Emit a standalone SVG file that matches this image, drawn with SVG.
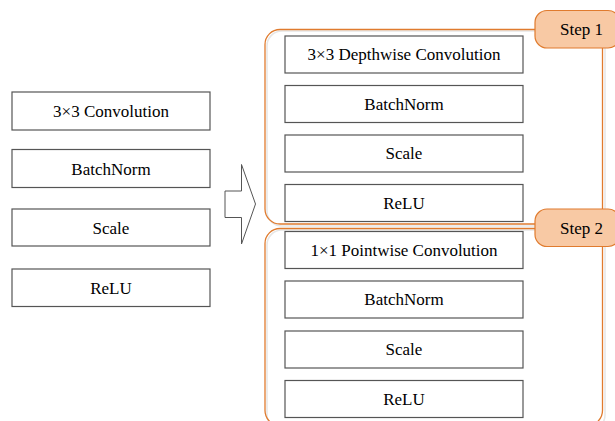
<svg xmlns="http://www.w3.org/2000/svg" width="615" height="421" viewBox="0 0 615 421">
<rect width="615" height="421" fill="#fff"/>

<g id="connectors">
<polygon fill="#fff" stroke="#555" stroke-width="1" points="225,191 241.5,191 241.5,164.5 255.5,204 241.5,244 241.5,217.5 225,217.5"/>
</g>

<g id="step1-group" fill="none">
<rect stroke="#e6e6e6" stroke-width="1.5" x="267" y="31" width="338" height="195" rx="15"/>
<rect stroke="#e07b2e" stroke-width="1.3" x="265" y="29.5" width="337.5" height="194.5" rx="15"/>
</g>
<g id="step2-group" fill="none">
<rect stroke="#e6e6e6" stroke-width="1.5" x="267" y="230" width="338" height="200" rx="15"/>
<rect stroke="#e07b2e" stroke-width="1.3" x="265" y="228.5" width="337.5" height="197" rx="15"/>
</g>

<g id="left-conv"><rect fill="#fff" stroke="#555" stroke-width="1.2" x="12" y="92" width="198" height="38"/><text x="111" y="117" font-family="Times New Roman" font-size="17" text-anchor="middle">3×3 Convolution</text></g>
<g id="left-bn"><rect fill="#fff" stroke="#555" stroke-width="1.2" x="12" y="149.5" width="198" height="38"/><text x="111" y="174.5" font-family="Times New Roman" font-size="17" text-anchor="middle">BatchNorm</text></g>
<g id="left-scale"><rect fill="#fff" stroke="#555" stroke-width="1.2" x="12" y="209" width="198" height="37"/><text x="111" y="233.5" font-family="Times New Roman" font-size="17" text-anchor="middle">Scale</text></g>
<g id="left-relu"><rect fill="#fff" stroke="#555" stroke-width="1.2" x="12" y="269" width="198" height="37.5"/><text x="111" y="293.5" font-family="Times New Roman" font-size="17" text-anchor="middle">ReLU</text></g>

<g id="dw-conv"><rect fill="#fff" stroke="#555" stroke-width="1.2" x="285" y="36" width="238" height="37"/><text x="404" y="60" font-family="Times New Roman" font-size="17" text-anchor="middle">3×3 Depthwise Convolution</text></g>
<g id="dw-bn"><rect fill="#fff" stroke="#555" stroke-width="1.2" x="285" y="85.5" width="238" height="37"/><text x="404" y="109.5" font-family="Times New Roman" font-size="17" text-anchor="middle">BatchNorm</text></g>
<g id="dw-scale"><rect fill="#fff" stroke="#555" stroke-width="1.2" x="285" y="135" width="238" height="37"/><text x="404" y="159" font-family="Times New Roman" font-size="17" text-anchor="middle">Scale</text></g>
<g id="dw-relu"><rect fill="#fff" stroke="#555" stroke-width="1.2" x="285" y="184.5" width="238" height="37"/><text x="404" y="208.5" font-family="Times New Roman" font-size="17" text-anchor="middle">ReLU</text></g>

<g id="pw-conv"><rect fill="#fff" stroke="#555" stroke-width="1.2" x="285" y="231.5" width="238" height="37"/><text x="404" y="255.5" font-family="Times New Roman" font-size="17" text-anchor="middle">1×1 Pointwise Convolution</text></g>
<g id="pw-bn"><rect fill="#fff" stroke="#555" stroke-width="1.2" x="285" y="281" width="238" height="37"/><text x="404" y="305" font-family="Times New Roman" font-size="17" text-anchor="middle">BatchNorm</text></g>
<g id="pw-scale"><rect fill="#fff" stroke="#555" stroke-width="1.2" x="285" y="331" width="238" height="37"/><text x="404" y="355" font-family="Times New Roman" font-size="17" text-anchor="middle">Scale</text></g>
<g id="pw-relu"><rect fill="#fff" stroke="#555" stroke-width="1.2" x="285" y="380.5" width="238" height="37"/><text x="404" y="404.5" font-family="Times New Roman" font-size="17" text-anchor="middle">ReLU</text></g>

<g id="step1-badge"><rect fill="#f8c9a4" stroke="#e07b2e" stroke-width="1.2" x="535" y="10.5" width="85" height="37.5" rx="12"/><text x="581.5" y="35" font-family="Times New Roman" font-size="17" text-anchor="middle">Step 1</text></g>
<g id="step2-badge"><rect fill="#f8c9a4" stroke="#e07b2e" stroke-width="1.2" x="535" y="209" width="85" height="37.5" rx="12"/><text x="581.5" y="234" font-family="Times New Roman" font-size="17" text-anchor="middle">Step 2</text></g>
</svg>
